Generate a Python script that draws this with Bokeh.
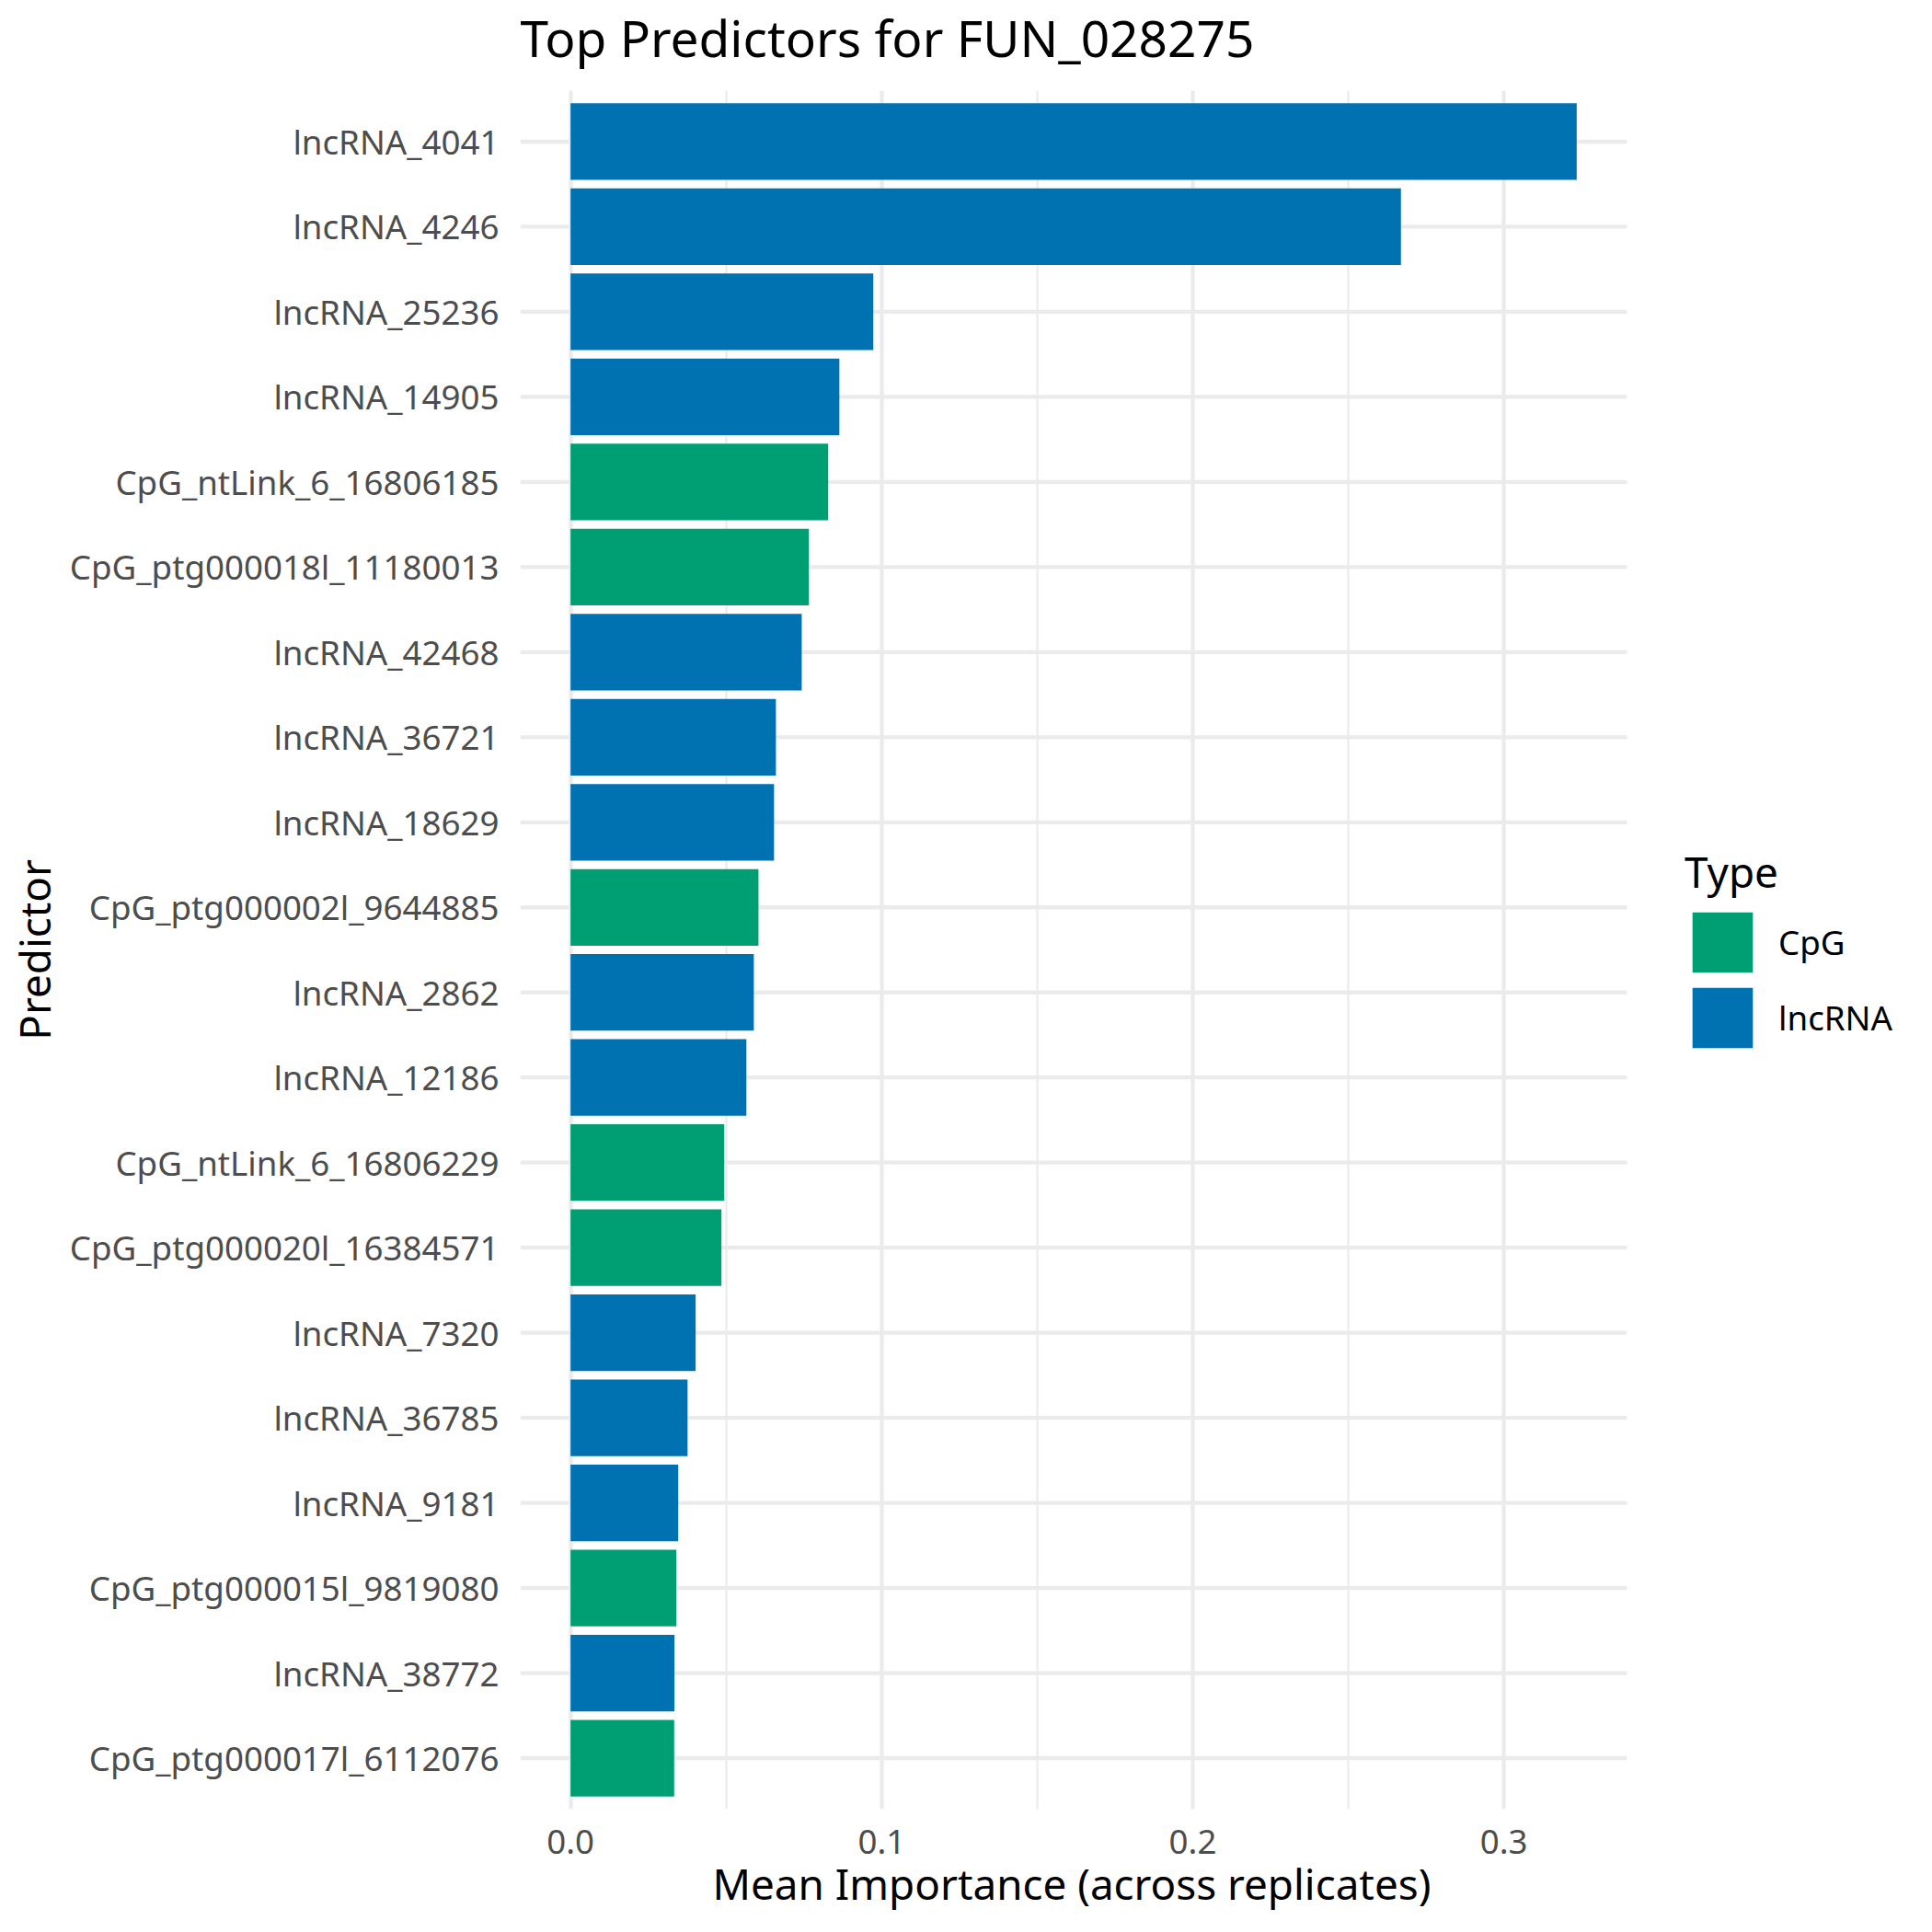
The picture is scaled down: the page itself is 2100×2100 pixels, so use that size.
from bokeh.plotting import figure
from bokeh.models import (ColumnDataSource, FactorRange, Range1d, FixedTicker,
                          Legend, LegendItem, NumeralTickFormatter, LinearAxis, Title)
from bokeh.embed import file_html
from bokeh.resources import INLINE

# ---- data (top to bottom as shown) ----
predictors = [
    "lncRNA_4041", "lncRNA_4246", "lncRNA_25236", "lncRNA_14905",
    "CpG_ntLink_6_16806185", "CpG_ptg000018l_11180013", "lncRNA_42468",
    "lncRNA_36721", "lncRNA_18629", "CpG_ptg000002l_9644885", "lncRNA_2862",
    "lncRNA_12186", "CpG_ntLink_6_16806229", "CpG_ptg000020l_16384571",
    "lncRNA_7320", "lncRNA_36785", "lncRNA_9181", "CpG_ptg000015l_9819080",
    "lncRNA_38772", "CpG_ptg000017l_6112076",
]
importance = [
    0.3234, 0.2669, 0.0973, 0.0864, 0.0828, 0.0766, 0.0743, 0.0660, 0.0654,
    0.0604, 0.0589, 0.0565, 0.0494, 0.0485, 0.0402, 0.0376, 0.0346, 0.0340,
    0.0334, 0.0333,
]
ptype = [
    "lncRNA", "lncRNA", "lncRNA", "lncRNA", "CpG", "CpG", "lncRNA", "lncRNA",
    "lncRNA", "CpG", "lncRNA", "lncRNA", "CpG", "CpG", "lncRNA", "lncRNA",
    "lncRNA", "CpG", "lncRNA", "CpG",
]
type_levels = ["CpG", "lncRNA"]
type_colors = ["#009E73", "#0072B2"]
x_ticks = [0.0, 0.1, 0.2, 0.3]
x_minor_ticks = [0.05, 0.15, 0.25]

title_text = "Top Predictors for FUN_028275"
x_label = "Mean Importance (across replicates)"
y_label = "Predictor"
legend_title = "Type"

FONT = "Noto Sans"
GRID = "#EBEBEB"

# ---- layout constants (pixels) ----
W = H = 2100
LEFT, TOP, BOTTOM = 565, 97, 134
PANEL_W = 1203          # width of the data panel (gridded area)
FRAME_W = W - LEFT      # frame extends to the right edge to host the legend

xmax = max(importance)
x_lo = -0.05 * xmax                     # ggplot-style expansion
x_hi_panel = 1.05 * xmax
x_hi_frame = x_lo + (x_hi_panel - x_lo) * FRAME_W / PANEL_W
factors = list(reversed(predictors))

p = figure(
    width=W, height=H,
    output_backend="svg", toolbar_location=None,
    y_range=FactorRange(factors=factors, range_padding=0.01, range_padding_units="percent"),
    x_range=Range1d(x_lo, x_hi_frame),
    min_border_left=LEFT, min_border_right=0, min_border_top=TOP, min_border_bottom=BOTTOM,
)
p.outline_line_color = None
p.background_fill_color = "white"
p.border_fill_color = "white"

xa = p.below[0]
ya = p.left[0]

# horizontal grid lines (restricted to the panel area)
grid_src = ColumnDataSource(dict(predictor=predictors))
p.segment(x0=x_lo, x1=x_hi_panel, y0="predictor", y1="predictor", source=grid_src,
          line_color=GRID, line_width=4.3)
p.ygrid.visible = False

renderers = {}
for t, c in zip(type_levels, type_colors):
    idx = [i for i, tt in enumerate(ptype) if tt == t]
    src = ColumnDataSource(dict(
        predictor=[predictors[i] for i in idx],
        importance=[importance[i] for i in idx],
    ))
    renderers[t] = p.hbar(y="predictor", left=0, right="importance", height=0.9,
                          source=src, fill_color=c, line_color=None)

# title
p.title.text = title_text
p.title.text_font = FONT
p.title.text_font_size = "55px"
p.title.text_font_style = "normal"
p.title.text_color = "black"
p.title.align = "left"
p.title.offset = 0
p.title.standoff = 0

# invisible spacer between title and frame (one white tick far right)
p.extra_x_ranges = {"_spx": Range1d(0, 1)}
top_spacer = LinearAxis(x_range_name="_spx", ticker=FixedTicker(ticks=[0.995]),
                        major_tick_out=21, minor_tick_out=0, major_tick_in=0,
                        minor_tick_in=0, major_label_standoff=0, axis_line_color=None,
                        major_tick_line_color="white", major_tick_line_width=1,
                        major_label_text_color=None, major_label_text_font_size="1px")
p.add_layout(top_spacer, "above")

# x axis
xa.ticker = FixedTicker(ticks=x_ticks, minor_ticks=x_minor_ticks)
xa.formatter = NumeralTickFormatter(format="0.0")
xa.axis_line_color = None
xa.major_tick_line_color = None
xa.minor_tick_line_color = None
xa.major_tick_out = 0
xa.major_tick_in = 0
xa.minor_tick_out = 0
xa.minor_tick_in = 0
xa.major_label_text_font = FONT
xa.major_label_text_font_size = "36.7px"
xa.major_label_text_color = "#4D4D4D"
xa.major_label_standoff = 22
xa.axis_label = None

# x axis title, centred under the data panel
x_title = Title(text=x_label, align="left", offset=209, vertical_align="top", standoff=-3,
                text_font=FONT, text_font_size="45.8px", text_font_style="normal",
                text_color="black")
p.add_layout(x_title, "below")

# y axis
ya.axis_line_color = None
ya.major_tick_line_color = None
ya.minor_tick_line_color = None
ya.major_tick_out = 0
ya.major_tick_in = 0
ya.major_label_text_font = FONT
ya.major_label_text_font_size = "36.7px"
ya.major_label_text_color = "#4D4D4D"
ya.major_label_standoff = 23
ya.axis_label = y_label
ya.axis_label_text_font = FONT
ya.axis_label_text_font_size = "45.8px"
ya.axis_label_text_font_style = "normal"
ya.axis_label_text_color = "black"
ya.axis_label_standoff = 5

# vertical grid lines
p.xgrid.grid_line_color = GRID
p.xgrid.grid_line_width = 4.3
p.xgrid.minor_grid_line_color = GRID
p.xgrid.minor_grid_line_width = 2.2

# legend (inside the frame, to the right of the panel)
legend = Legend(
    items=[LegendItem(label=t, renderers=[renderers[t]]) for t in type_levels],
    location=(1266, 819),
    title=legend_title,
    title_text_font=FONT, title_text_font_size="45.8px", title_text_font_style="normal",
    title_text_color="black", title_standoff=5,
    label_text_font=FONT, label_text_font_size="36.7px", label_text_color="black",
    glyph_width=82, glyph_height=82, spacing=0, label_standoff=20,
    padding=0, margin=0, border_line_color=None, background_fill_alpha=0,
)
p.add_layout(legend)

open("out.html", "w").write(file_html(p, INLINE))
